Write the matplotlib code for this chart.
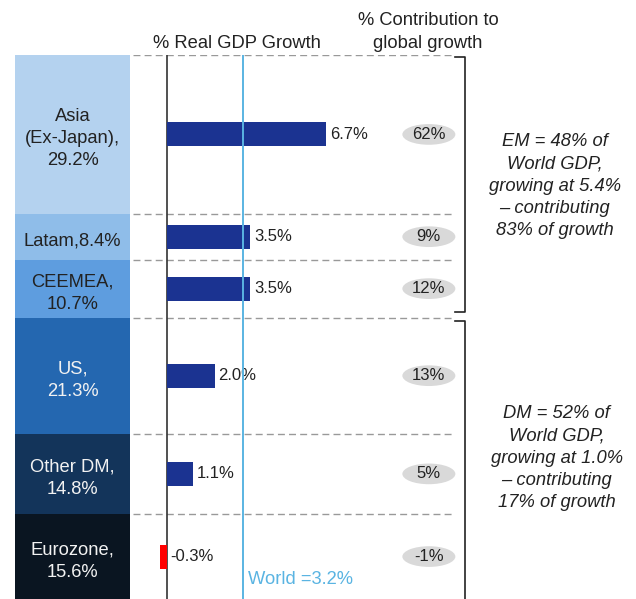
import matplotlib
matplotlib.use('Agg')
from matplotlib import pyplot as plt
from matplotlib.patches import Ellipse

plt.rcParams['font.family'] = ['Liberation Sans', 'DejaVu Sans']

# data
region_labels = ['Asia\n(Ex-Japan),\n', 'Latam,', 'CEEMEA,\n', 'US,\n', 'Other DM,\n', 'Eurozone,\n']
gdp_share = [29.2, 8.4, 10.7, 21.3, 14.8, 15.6]
real_growth = [6.7, 3.5, 3.5, 2.0, 1.1, -0.3]
contribution = [62, 9, 12, 13, 5, -1]
world_growth = 3.2
em_count = 3  # first three regions are EM
em_text = 'EM = 48% of\nWorld GDP,\ngrowing at 5.4%\n\u2013 contributing\n83% of growth'
dm_text = 'DM = 52% of\nWorld GDP,\ngrowing at 1.0%\n\u2013 contributing\n17% of growth'

block_colors = ['#b4d2ef', '#8fbde9', '#5e9ddf', '#2467b0', '#13345a', '#0a1521']
label_colors = ['#222222', '#222222', '#222222', '#f2f2f2', '#f2f2f2', '#f2f2f2']
bar_color = '#1b3391'
neg_color = '#ff0000'
world_color = '#5ab4e2'
text_color = '#222222'

W, H = 636, 599
fig = plt.figure(figsize=(W / 100, H / 100), dpi=100)


def px_box(x0, y0, x1, y1):
    return [x0 / W, 1 - y1 / H, (x1 - x0) / W, (y1 - y0) / H]


starts = []
total = 0
for s in gdp_share:
    starts.append(total)
    total += s
centers = [b + s / 2 for b, s in zip(starts, gdp_share)]

# stacked GDP share column
ax_blk = fig.add_axes(px_box(15, 55, 130, 599))
ax_blk.bar([0] * len(gdp_share), gdp_share, bottom=starts, width=1,
           color=block_colors, edgecolor='none')
for lab, s, c, col in zip(region_labels, gdp_share, centers, label_colors):
    ax_blk.text(0, c + 0.8, f'{lab}{s}%', ha='center', va='center',
                fontsize=13.2, color=col, linespacing=1.4)
ax_blk.set_xlim(-0.5, 0.5)
ax_blk.set_ylim(total, 0)
ax_blk.axis('off')

# growth bars
px_per_pct = 23.8
zero_px = 167
ax = fig.add_axes(px_box(132, 55, 636, 599))
ax.set_xlim((132 - zero_px) / px_per_pct, (636 - zero_px) / px_per_pct)
ax.set_ylim(total, 0)
ax.axis('off')

colors = [neg_color if v < 0 else bar_color for v in real_growth]
ax.barh(centers, real_growth, height=4.4, color=colors, edgecolor='none', zorder=3)
for v, c in zip(real_growth, centers):
    ax.text(max(v, 0) + 0.15, c, f'{v:.1f}%', ha='left', va='center',
            fontsize=12, color=text_color, zorder=4)

ax.axvline(0, color='#333333', lw=1.2, zorder=2)
ax.axvline(world_growth, color=world_color, lw=1.4, zorder=4)
ax.text(world_growth + 0.2, 96.5, f'World ={world_growth}%', ha='left', va='center',
        fontsize=13.2, color=world_color)

trans = ax.get_yaxis_transform()
for b in starts:
    ax.plot([0.002, 0.641], [b, b], transform=trans, color='#999999', lw=1,
            dashes=(5, 3), zorder=1)

# contribution ovals
for v, c in zip(contribution, centers):
    ax.add_patch(Ellipse((0.589, c), 53 / 504, 3.8, transform=trans,
                         facecolor='#d9d9d9', edgecolor='none'))
    ax.text(0.589, c, f'{v}%', transform=trans, ha='center', va='center',
            fontsize=12, color=text_color)

# EM / DM brackets
em_end = starts[em_count]
for top, bot in [(0.4, em_end - 1.0), (em_end + 0.6, total + 2)]:
    ax.plot([0.641, 0.661, 0.661, 0.641], [top, top, bot, bot], transform=trans,
            color=text_color, lw=1.2, clip_on=False)

ax.text(0.839, em_end / 2, em_text, transform=trans, ha='center', va='center',
        fontsize=13.2, style='italic', color=text_color, linespacing=1.4)
ax.text(0.843, (em_end + total) / 2, dm_text, transform=trans, ha='center',
        va='center', fontsize=13.2, style='italic', color=text_color, linespacing=1.4)

# column headers
fig.text(237 / W, 1 - 43 / H, '% Real GDP Growth', ha='center', va='center',
         fontsize=13.2, color=text_color)
fig.text(428 / W, 1 - 32 / H, '% Contribution to\nglobal growth', ha='center',
         va='center', fontsize=13.2, color=text_color, linespacing=1.4)

fig.savefig('out.png', dpi=100)
